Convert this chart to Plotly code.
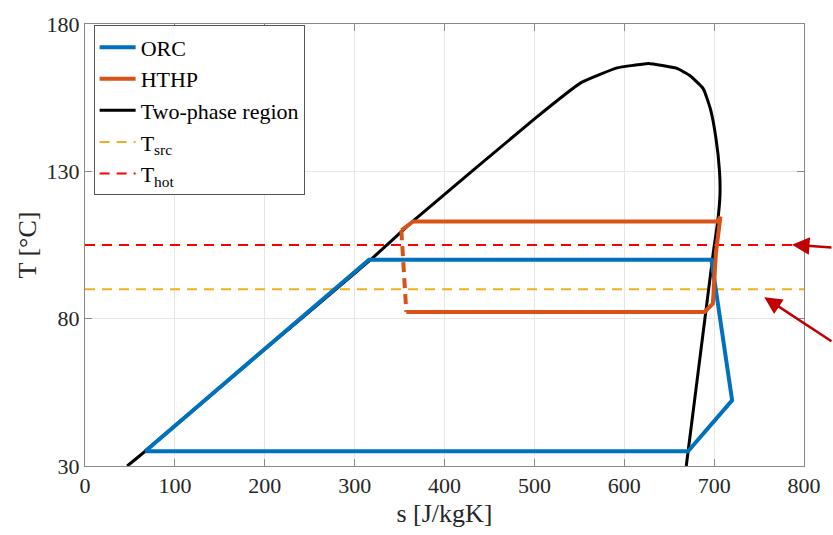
import plotly.graph_objects as go

# ---------------- data ----------------
dome_s = [47, 67, 190, 316, 368.5, 500.5, 552, 592, 611, 627, 658, 673, 688, 696, 702, 706, 706.5, 704, 699, 669]
dome_T = [30, 35, 67, 99.5, 114, 147.9, 160.1, 165.1, 166, 166.6, 165, 162.5, 158, 151, 141.3, 130, 122, 113, 102.3, 30]

orc_s = [67, 316, 697, 720, 671, 67]
orc_T = [35, 100, 100, 52.3, 35, 35]

hthp_s = [357.5, 689.4, 698.6, 702, 707, 704, 365, 352]
hthp_T = [82.3, 82.3, 85.1, 102.3, 114.6, 113, 113, 110]

hthp_dash_s = [352, 357.5]
hthp_dash_T = [110, 82.3]

T_src = 90
T_hot = 105
x_range = [0, 800]
y_range = [30, 180]
x_ticks = [0, 100, 200, 300, 400, 500, 600, 700, 800]
y_ticks = [30, 80, 130, 180]

FONT = "Liberation Serif"
C_ORC = "#0072BD"
C_HTHP = "#D95319"
C_SRC = "#EDB120"
C_HOT = "#FF0000"

fig = go.Figure()

fig.add_trace(go.Scatter(x=dome_s, y=dome_T, mode="lines", name="Two-phase region", legendrank=3,
                         line=dict(color="black", width=3, shape="spline", smoothing=0.4)))
fig.add_trace(go.Scatter(x=x_range, y=[T_src, T_src], mode="lines", name="T<sub>src</sub>", legendrank=4,
                         line=dict(color=C_SRC, width=2, dash="10px,7px")))
fig.add_trace(go.Scatter(x=x_range, y=[T_hot, T_hot], mode="lines", name="T<sub>hot</sub>", legendrank=5,
                         line=dict(color=C_HOT, width=2, dash="10px,7px")))
fig.add_trace(go.Scatter(x=orc_s, y=orc_T, mode="lines", name="ORC", legendrank=1,
                         line=dict(color=C_ORC, width=4)))
fig.add_trace(go.Scatter(x=hthp_s, y=hthp_T, mode="lines", name="HTHP", legendrank=2,
                         line=dict(color=C_HTHP, width=4)))
fig.add_trace(go.Scatter(x=hthp_dash_s, y=hthp_dash_T, mode="lines", showlegend=False,
                         line=dict(color=C_HTHP, width=4, dash="10px,6px")))

axis_common = dict(
    showline=True, linecolor="#8a8a8a", linewidth=1, mirror="ticks",
    ticks="inside", ticklen=7, tickcolor="#8a8a8a",
    showgrid=True, gridcolor="#e6e6e6", gridwidth=1, zeroline=False,
    tickfont=dict(family=FONT, size=22, color="#262626"),
)

fig.update_xaxes(range=x_range, tickvals=x_ticks, **axis_common,
                 title=dict(text="s [J/kgK]", font=dict(family=FONT, size=26, color="#262626"), standoff=6))
fig.update_yaxes(range=y_range, tickvals=y_ticks, **axis_common,
                 title=dict(text="T [°C]", font=dict(family=FONT, size=26, color="#262626"), standoff=2))

fig.add_annotation(x=786.6, y=105.1, xref="x", yref="y", ax=45, ay=3, axref="pixel", ayref="pixel",
                   showarrow=True, arrowhead=2, arrowsize=1.4, arrowwidth=2.5, arrowcolor="#C00000", text="")
fig.add_annotation(x=755.8, y=87.3, xref="x", yref="y", ax=80, ay=45,
                   showarrow=True, arrowhead=2, arrowsize=1.4, arrowwidth=2.5, arrowcolor="#C00000", text="")

fig.update_layout(
    width=833, height=535,
    margin=dict(l=85, r=21, t=17, b=68),
    paper_bgcolor="white", plot_bgcolor="white",
    font=dict(family=FONT, color="black"),
    showlegend=True,
    legend=dict(x=0.012, y=0.997, xanchor="left", yanchor="top",
                bgcolor="white", bordercolor="#555555", borderwidth=1,
                font=dict(family=FONT, size=22, color="black"),
                itemwidth=36, tracegroupgap=0,
                traceorder="normal"),
)

fig.write_html("out.html")
